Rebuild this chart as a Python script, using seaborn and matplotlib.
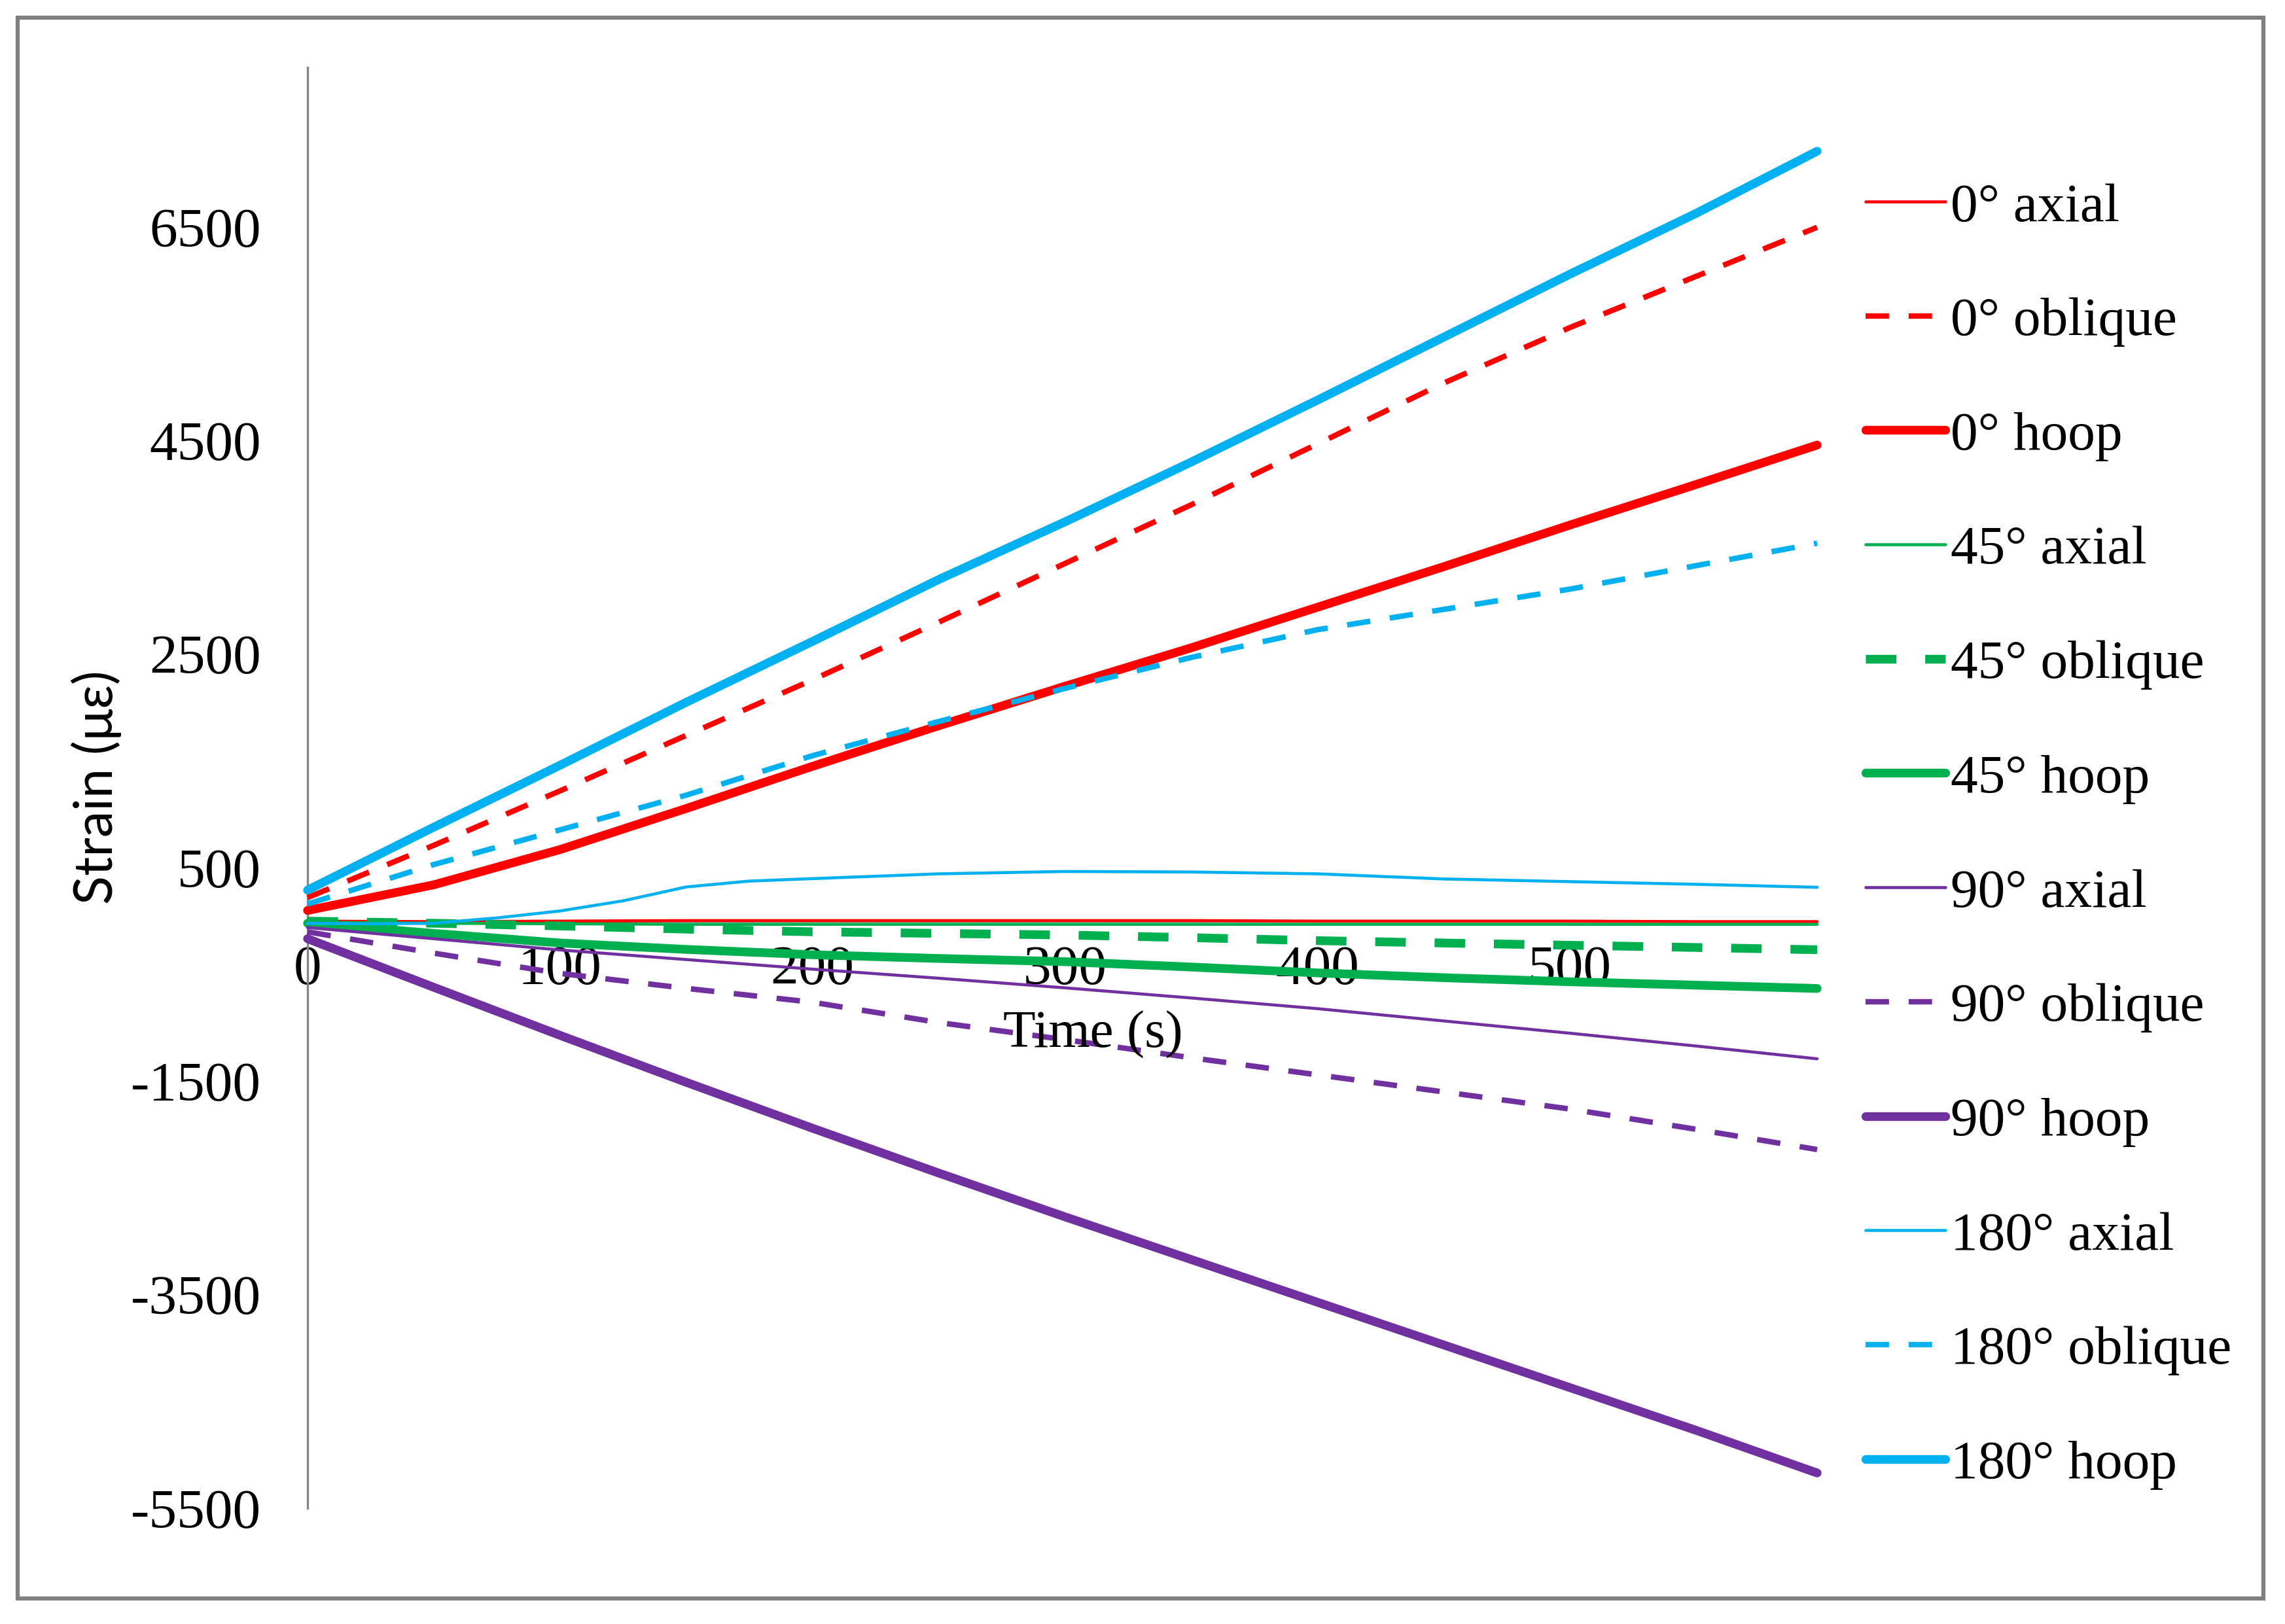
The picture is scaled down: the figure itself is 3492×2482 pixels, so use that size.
import matplotlib
matplotlib.use("Agg")
import matplotlib.pyplot as plt
import seaborn as sns
from matplotlib.patches import Rectangle

# ---------------- data ----------------
time_s = [0, 50, 100, 150, 200, 250, 300, 350, 400, 450, 500, 550, 598]
time_180_axial = [0, 25, 50, 75, 100, 125, 150, 175, 200, 250, 300, 350, 400, 450, 500, 550, 598]

axial_0 = [0, -5, 0, 5, 5, 5, 5, 5, 0, 0, 0, -5, -5]
oblique_0 = [220, 710, 1220, 1740, 2260, 2800, 3350, 3900, 4470, 5040, 5560, 6040, 6500]
hoop_0 = [100, 340, 670, 1055, 1450, 1830, 2200, 2560, 2940, 3320, 3710, 4090, 4460]

axial_45 = [-10, -20, -25, -30, -30, -30, -30, -30, -30, -30, -30, -30, -30]
oblique_45 = [0, -20, -45, -75, -100, -115, -130, -155, -183, -205, -226, -247, -268]
hoop_45 = [-20, -115, -205, -265, -315, -350, -380, -430, -485, -530, -568, -600, -631]

axial_90 = [-60, -165, -270, -360, -450, -535, -625, -720, -820, -935, -1050, -1170, -1290]
oblique_90 = [-100, -300, -490, -630, -760, -950, -1110, -1280, -1440, -1600, -1760, -1950, -2140]
hoop_90 = [-165, -620, -1070, -1510, -1940, -2360, -2770, -3170, -3570, -3970, -4370, -4770, -5170]

axial_180 = [-20, -25, -20, 30, 95, 190, 320, 375, 398, 443, 465, 460, 443, 395, 370, 345, 317]
oblique_180 = [160, 530, 855, 1180, 1550, 1870, 2180, 2470, 2730, 2920, 3110, 3330, 3540]
hoop_180 = [290, 880, 1460, 2050, 2620, 3200, 3740, 4300, 4880, 5470, 6060, 6630, 7213]

labels = ["0° axial", "0° oblique", "0° hoop",
          "45° axial", "45° oblique", "45° hoop",
          "90° axial", "90° oblique", "90° hoop",
          "180° axial", "180° oblique", "180° hoop"]

x_ticks = [0, 100, 200, 300, 400, 500]
y_ticks = [-5500, -3500, -1500, 500, 2500, 4500, 6500]

# ---------------- styles ----------------
RED, GREEN, PURPLE, CYAN = "#FF0000", "#00B050", "#7030A0", "#00B0F0"
THIN, MED, THICK = 1.1, 2.0, 3.2
dash_med = (0, (4.3, 3.6))
dash_thick = (0, (3.5, 3.3))

series = [
    (time_s, axial_0, RED, THIN, "-"),
    (time_s, oblique_0, RED, MED, dash_med),
    (time_s, hoop_0, RED, THICK, "-"),
    (time_s, axial_45, GREEN, THIN, "-"),
    (time_s, oblique_45, GREEN, THICK, dash_thick),
    (time_s, hoop_45, GREEN, THICK, "-"),
    (time_s, axial_90, PURPLE, THIN, "-"),
    (time_s, oblique_90, PURPLE, MED, dash_med),
    (time_s, hoop_90, PURPLE, THICK, "-"),
    (time_180_axial, axial_180, CYAN, THIN, "-"),
    (time_s, oblique_180, CYAN, MED, dash_med),
    (time_s, hoop_180, CYAN, THICK, "-"),
]

sns.set_theme(style="white")
plt.rcParams['font.family'] = ['Liberation Serif', 'DejaVu Serif']
plt.rcParams['text.color'] = 'black'

W, H = 3492, 2482
fig = plt.figure(figsize=(W / 300, H / 300), dpi=300)
ax = fig.add_axes([470 / W, 1 - 2305 / H, (2777 - 470) / W, (2305 - 102.7) / H])

for (t, v, c, lw, ls), lab in zip(series, labels):
    sns.lineplot(x=t, y=v, ax=ax, color=c, linewidth=lw, linestyle=ls,
                 label=lab, sort=False, estimator=None, clip_on=False, zorder=3)

ax.set_xlim(0, 598)
ax.set_ylim(-5500, 8000)
ax.set_xticks(x_ticks)
ax.set_yticks(y_ticks)
ax.set_xticklabels([str(v) for v in x_ticks])
ax.set_yticklabels([str(v) for v in y_ticks])
ax.set_xlabel("")
ax.set_ylabel("")

for s in ["top", "right"]:
    ax.spines[s].set_visible(False)
ax.spines["bottom"].set_position(("data", 0))
for s in ["left", "bottom"]:
    ax.spines[s].set_color("#868686")
    ax.spines[s].set_linewidth(0.8)
    ax.spines[s].set_zorder(2)

ax.tick_params(axis="both", length=0, labelsize=20.5, colors="black")
ax.tick_params(axis="x", pad=9)
ax.tick_params(axis="y", pad=17)

fig.text(1670 / W, 1 - 1581 / H, "Time (s)", ha="center", va="center",
         fontsize=19.5, color="black")
fig.text(147 / W, 1 - 1203 / H, "Strain (με)", ha="center", va="center",
         rotation=90, fontsize=19.5, color="black", family=["Lato", "DejaVu Sans"])

handles, labs = ax.get_legend_handles_labels()
leg = ax.legend(handles, labs, loc="upper left", bbox_to_anchor=(2851 / W, 1 - 279 / H),
                bbox_transform=fig.transFigure, frameon=False, fontsize=20,
                handlelength=1.46, handletextpad=0.1, labelspacing=1.18,
                borderpad=0, borderaxespad=0)
for txt in leg.get_texts():
    txt.set_color("black")

fig.add_artist(Rectangle((27 / W, 1 - 2443 / H), (3459 - 27) / W, (2443 - 27) / H,
                         transform=fig.transFigure, fill=False,
                         edgecolor="#7f7f7f", linewidth=1.5))

fig.savefig("out.png", dpi=300, facecolor="white")
